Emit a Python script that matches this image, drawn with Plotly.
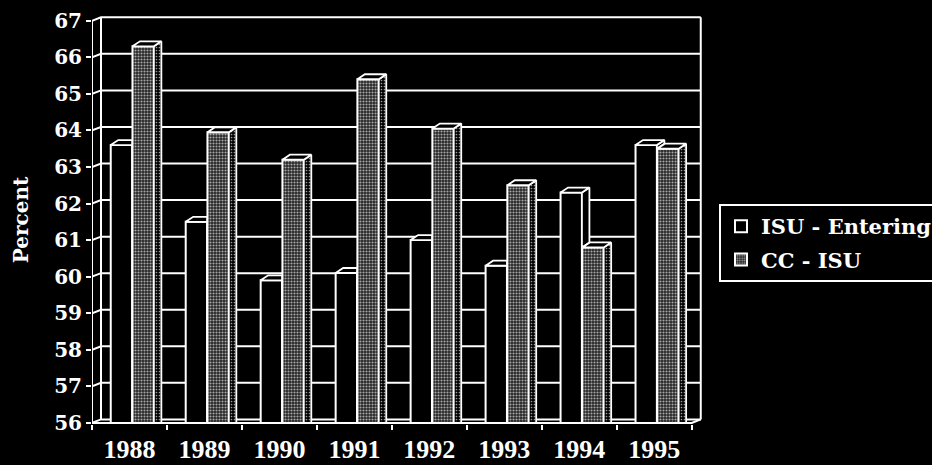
import plotly.graph_objects as go

# ---- data -------------------------------------------------------------
years = ["1988", "1989", "1990", "1991", "1992", "1993", "1994", "1995"]
isu_entering = [63.6, 61.5, 59.9, 60.1, 61.0, 60.3, 62.3, 63.6]
cc_isu = [66.3, 63.95, 63.2, 65.4, 64.05, 62.5, 60.8, 63.5]
y_ticks = list(range(56, 68))

# ---- geometry (data units) ------------------------------------------
Y_MIN, Y_MAX = 56, 67
X_LEFT, X_RIGHT = -0.5, len(years) - 0.5
BAR_W = 0.285
OFF_ISU = -0.25
OFF_CC = 0.04
DX, DY = 0.10, 0.137      # depth of each 3-D bar
WX, WY = 0.12, 0.095      # offset of the back wall
LINE = dict(color="white", width=2)

xs = list(range(len(years)))

fig = go.Figure()

# front faces
fig.add_bar(
    x=xs, y=isu_entering, width=BAR_W, offset=OFF_ISU,
    name="ISU - Entering", legendgroup="a",
    marker=dict(color="black", line=LINE),
)
fig.add_bar(
    x=xs, y=cc_isu, width=BAR_W, offset=OFF_CC,
    name="CC - ISU", legendgroup="b",
    marker=dict(
        color="#2a2a2a",
        line=LINE,
        pattern=dict(shape=".", fgcolor="#a8a8a8", bgcolor="#262626",
                     size=3, solidity=0.4, fillmode="replace"),
    ),
)


def poly_trace(xx, yy, fill="black", pattern=None):
    kw = dict(
        x=xx, y=yy, mode="lines", fill="toself", fillcolor=fill,
        line=dict(color="white", width=1.8), showlegend=False,
        hoverinfo="skip",
    )
    if pattern:
        kw["fillpattern"] = pattern
    return go.Scatter(**kw)


# top and side faces built from the values
isu_side_x, isu_side_y, isu_top_x, isu_top_y = [], [], [], []
cc_side_x, cc_side_y, cc_top_x, cc_top_y = [], [], [], []
for k, (vi, vc) in enumerate(zip(isu_entering, cc_isu)):
    a0, a1 = k + OFF_ISU, k + OFF_ISU + BAR_W
    b0, b1 = k + OFF_CC, k + OFF_CC + BAR_W
    if vi > vc:
        isu_top_x += [a0, a0 + DX, a1 + DX, a1, a0, None]
        isu_top_y += [vi, vi + DY, vi + DY, vi, vi, None]
        isu_side_x += [a1, a1, a1 + DX, a1 + DX, a1, None]
        isu_side_y += [vc, vi, vi + DY, vc + DY, vc, None]
    else:
        isu_top_x += [a0, a0 + DX, a1, a1, a0, None]
        isu_top_y += [vi, vi + DY, vi + DY, vi, vi, None]
    cc_top_x += [b0, b0 + DX, b1 + DX, b1, b0, None]
    cc_top_y += [vc, vc + DY, vc + DY, vc, vc, None]
    cc_side_x += [b1, b1, b1 + DX, b1 + DX, b1, None]
    cc_side_y += [Y_MIN - 0.05, vc, vc + DY, Y_MIN - 0.05, Y_MIN - 0.05, None]

fig.add_trace(poly_trace(isu_side_x, isu_side_y))
fig.add_trace(poly_trace(isu_top_x, isu_top_y))
fig.add_trace(poly_trace(
    cc_side_x, cc_side_y, fill="black",
    pattern=dict(shape=".", fgcolor="#9a9a9a", bgcolor="black",
                 size=3, solidity=0.25, fillmode="replace")))
fig.add_trace(poly_trace(cc_top_x, cc_top_y))

# ---- back wall, grid and front axis lines -----------------------------
shapes = []
for v in y_ticks:
    shapes.append(dict(type="path", layer="below", line=LINE,
                       path=f"M {X_LEFT},{v} L {X_LEFT + WX},{v + WY} "
                            f"L {X_RIGHT + WX},{v + WY}"))
shapes += [
    dict(type="line", layer="below", line=LINE,
         x0=X_LEFT + WX, x1=X_LEFT + WX, y0=Y_MIN + WY, y1=Y_MAX + WY),
    dict(type="line", layer="below", line=LINE,
         x0=X_RIGHT + WX, x1=X_RIGHT + WX, y0=Y_MIN + WY, y1=Y_MAX + WY),
    dict(type="line", layer="above", line=LINE,
         x0=X_LEFT, x1=X_LEFT, y0=Y_MIN, y1=Y_MAX),
    dict(type="path", layer="above", line=LINE,
         path=f"M {X_LEFT},{Y_MIN} L {X_RIGHT},{Y_MIN} "
              f"L {X_RIGHT + WX},{Y_MIN + WY}"),
]

fig.update_layout(
    width=932, height=465,
    margin=dict(l=92, r=229, t=16, b=41, autoexpand=False),
    paper_bgcolor="black", plot_bgcolor="black",
    barmode="overlay",
    shapes=shapes,
    showlegend=True,
    legend=dict(
        x=(719 - 92) / 611, xanchor="left",
        y=(424 - 204) / 408, yanchor="top",
        bgcolor="black", bordercolor="white", borderwidth=2,
        font=dict(family="DejaVu Serif", size=21, color="white", weight="bold"),
        tracegroupgap=3, traceorder="grouped",
    ),
    xaxis=dict(
        range=[X_LEFT, X_RIGHT + 0.15],
        tickmode="array", tickvals=xs, ticktext=years, ticks="",
        showgrid=False, zeroline=False, showline=False,
        ticklabelstandoff=7,
        tickfont=dict(family="Liberation Serif", size=26, color="white",
                      weight="bold"),
        minor=dict(tickmode="array",
                   tickvals=[k - 0.5 for k in range(len(years) + 1)],
                   ticks="outside", ticklen=5, tickwidth=2,
                   tickcolor="white", showgrid=False),
    ),
    yaxis=dict(
        range=[Y_MIN - 0.03, Y_MAX + 0.13],
        tickmode="array", tickvals=y_ticks,
        ticks="outside", ticklen=5, tickwidth=2, tickcolor="white",
        showgrid=False, zeroline=False, showline=False,
        tickfont=dict(family="DejaVu Serif", size=20, color="white",
                      weight="bold"),
        title=dict(text="Percent", standoff=20,
                   font=dict(family="DejaVu Serif", size=20, color="white",
                             weight="bold")),
    ),
)

fig.write_html("out.html")
